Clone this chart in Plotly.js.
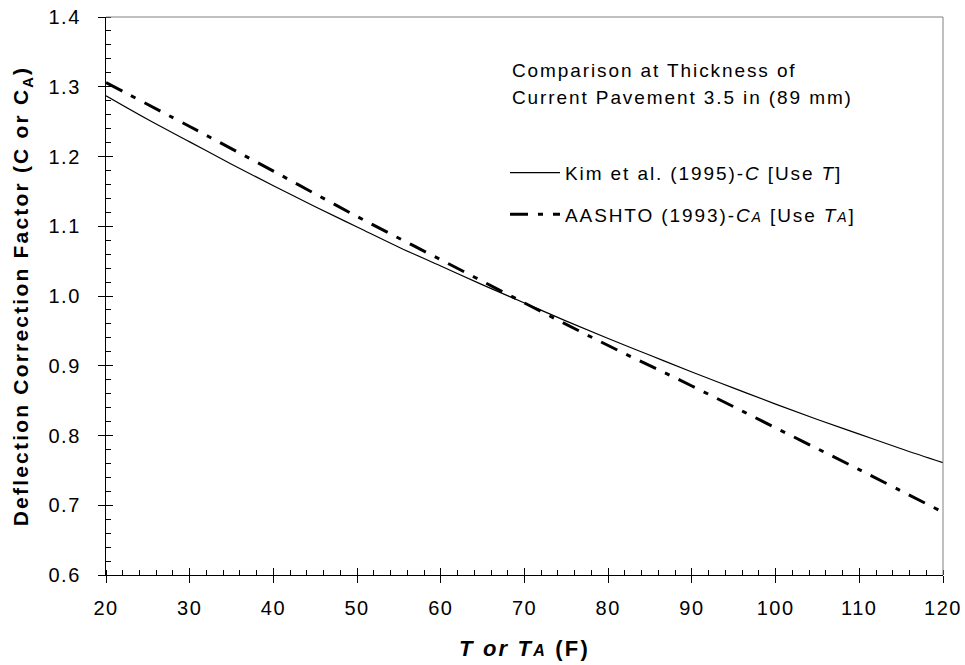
<!DOCTYPE html>
<html>
<head>
<meta charset="utf-8">
<script src="https://cdn.plot.ly/plotly-3.0.1.min.js"></script>
<style>
html,body{margin:0;padding:0;background:#fff;}
#chart{width:965px;height:665px;}
#chart .xtick text, #chart .ytick text {letter-spacing:1.5px;}
#chart .annotation-text {letter-spacing:1.9px;}
#chart .g-xtitle text, #chart .g-ytitle text {letter-spacing:2.2px;}
</style>
</head>
<body>
<div id="chart"></div>
<script>
// Temperature (F)
var kimT = [20, 25, 30, 35, 40, 45, 50, 55, 60, 65, 70, 75, 80, 85, 90, 95, 100, 105, 110, 115, 120];
// Kim et al. (1995) correction factor C
var kimC = [1.287, 1.253, 1.221, 1.189, 1.158, 1.128, 1.099, 1.070, 1.043, 1.016, 0.990, 0.964, 0.939, 0.915, 0.891, 0.868, 0.845, 0.823, 0.802, 0.781, 0.761];
// AASHTO (1993) temperature TA
var aashtoT = [20, 30, 40, 50, 60, 70, 80, 90, 100, 110, 120];
// AASHTO (1993) correction factor CA
var aashtoC = [1.306, 1.243, 1.179, 1.114, 1.052, 0.990, 0.929, 0.871, 0.811, 0.751, 0.690];

var xTicks = [20, 30, 40, 50, 60, 70, 80, 90, 100, 110, 120];
var yTicks = [0.6, 0.7, 0.8, 0.9, 1.0, 1.1, 1.2, 1.3, 1.4];
var yTickText = ["0.6", "0.7", "0.8", "0.9", "1.0", "1.1", "1.2", "1.3", "1.4"];
var noteLines = ["Comparison at Thickness of", "Current Pavement 3.5 in (89 mm)"];

var FONT = "Arial, 'Liberation Sans', sans-serif";
var sp = function (s) { return "<span style='letter-spacing:1.9px'>" + s + "</span>"; };
var sub = function (s) { return "<span style='font-size:14px;letter-spacing:1.9px'>" + s + "</span>"; };

var traces = [
  {
    x: kimT, y: kimC, type: "scatter", mode: "lines",
    line: {color: "#000", width: 1.2, shape: "spline"},
    name: sp("Kim et al. (1995)-") + "<i>" + sp("C") + "</i>" + sp(" [Use ") + "<i>" + sp("T") + "</i>" + sp("]"),
    legendgroup: "a"
  },
  {
    x: aashtoT, y: aashtoC, type: "scatter", mode: "lines",
    line: {color: "#000", width: 3, dash: "18px,10px,5px,10px", shape: "spline"},
    name: sp("AASHTO (1993)-") + "<i>" + sp("C") + sub("A") + "</i>" + sp(" [Use ") + "<i>" + sp("T") + sub("A") + "</i>" + sp("]"),
    legendgroup: "b"
  },
  // overlay axes for inside part of major ticks (crossing ticks)
  {x: [20, 120], y: [0.6, 1.4], xaxis: "x2", yaxis: "y2", mode: "none", type: "scatter", showlegend: false, hoverinfo: "skip"}
];

var layout = {
  width: 965, height: 665,
  margin: {l: 106, r: 22, t: 17, b: 90},
  paper_bgcolor: "#fff", plot_bgcolor: "#fff",
  font: {family: FONT, size: 19, color: "#000"},
  showlegend: true,
  legend: {
    x: 0.4767, y: 0.755, xanchor: "left", yanchor: "top",
    font: {family: FONT, size: 19, color: "#000"},
    bgcolor: "rgba(0,0,0,0)", borderwidth: 0,
    traceorder: "grouped", tracegroupgap: 14, itemwidth: 50
  },
  xaxis: {
    range: [20, 120], tickmode: "array", tickvals: xTicks,
    ticks: "outside", ticklen: 7, tickwidth: 1, tickcolor: "#000",
    showline: true, linecolor: "#000", linewidth: 1.2,
    showgrid: false, zeroline: false, ticklabelstandoff: 8,
    tickfont: {family: FONT, size: 20, color: "#000"},
    minor: {dtick: 2, ticks: "inside", ticklen: 5, tickwidth: 1, tickcolor: "#000", showgrid: false},
    title: {
      text: "<b><i>T or T" + "<span style='font-size:16px'>A</span></i> (F)</b>",
      font: {family: FONT, size: 22, color: "#000"}, standoff: 22
    }
  },
  yaxis: {
    range: [0.6, 1.4], tickmode: "array", tickvals: yTicks, ticktext: yTickText,
    ticks: "outside", ticklen: 7, tickwidth: 1, tickcolor: "#000",
    showline: true, linecolor: "#000", linewidth: 1.2,
    showgrid: false, zeroline: false, ticklabelstandoff: 13,
    tickfont: {family: FONT, size: 20, color: "#000"},
    minor: {dtick: 0.02, ticks: "inside", ticklen: 5, tickwidth: 1, tickcolor: "#000", showgrid: false},
    title: {
      text: "<b>Deflection Correction Factor (C or C<sub>A</sub>)</b>",
      font: {family: FONT, size: 21, color: "#000"}, standoff: 18
    }
  },
  xaxis2: {
    overlaying: "x", range: [20, 120], tickmode: "array", tickvals: xTicks,
    ticks: "inside", ticklen: 7, tickwidth: 1, tickcolor: "#000",
    showticklabels: false, showline: false, showgrid: false, zeroline: false
  },
  yaxis2: {
    overlaying: "y", range: [0.6, 1.4], tickmode: "array", tickvals: yTicks,
    ticks: "inside", ticklen: 7, tickwidth: 1, tickcolor: "#000",
    showticklabels: false, showline: false, showgrid: false, zeroline: false
  },
  shapes: [
    {type: "line", xref: "paper", yref: "paper", x0: 0, x1: 1, y0: 1, y1: 1, line: {color: "#808080", width: 1}},
    {type: "line", xref: "paper", yref: "paper", x0: 1, x1: 1, y0: 0, y1: 1, line: {color: "#808080", width: 1}}
  ],
  annotations: [
    {
      xref: "paper", yref: "paper", x: 0.483, y: 0.905, xanchor: "left", yanchor: "middle",
      align: "left", showarrow: false, text: noteLines[0],
      font: {family: FONT, size: 19, color: "#000"}
    },
    {
      xref: "paper", yref: "paper", x: 0.483, y: 0.855, xanchor: "left", yanchor: "middle",
      align: "left", showarrow: false, text: noteLines[1],
      font: {family: FONT, size: 19, color: "#000"}
    }
  ]
};

Plotly.newPlot("chart", traces, layout, {displayModeBar: false, staticPlot: true});
</script>
</body>
</html>
